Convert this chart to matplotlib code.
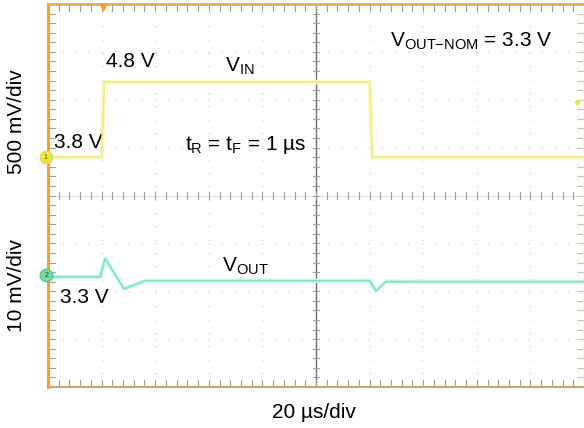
import numpy as np
import matplotlib
matplotlib.use("Agg")
import matplotlib.pyplot as plt

plt.rcParams["font.family"] = ["Liberation Sans", "DejaVu Sans"]
plt.rcParams["mathtext.fontset"] = "custom"
plt.rcParams["mathtext.rm"] = "Liberation Sans"
plt.rcParams["mathtext.it"] = "Liberation Sans"
plt.rcParams["mathtext.bf"] = "Liberation Sans"

# Time base: 20 us/div, 10 divisions
t_vin = [0.0, 20.0, 21.0, 120.0, 121.0, 200.0]          # us
v_in = [3.8, 3.8, 4.8, 4.8, 3.8, 3.8]                   # V

t_vout = [0.0, 19.5, 21.3, 28.4, 36.2, 120.0, 122.4, 126.1, 200.0]  # us
v_out_dev = [0.0, 0.0, 3.8, -2.5, -0.8, -0.8, -2.9, -1.0, -1.0]     # mV from 3.3 V

# Screen placement of each channel (in divisions from bottom)
VIN_REF, VIN_GAIN = 4.80, 1.57        # 3.8 V sits at 4.80 div, div per volt
VOUT_REF, VOUT_GAIN = 2.30, 0.10      # 3.3 V sits at 2.30 div, div per mV

W, H = 584, 428
fig = plt.figure(figsize=(W / 100, H / 100), dpi=100)
left, right, top, bottom = 48, 584, 4, 387
ax = fig.add_axes([left / W, 1 - bottom / H, (right - left) / W, (bottom - top) / H])
ax.set_xlim(0, 200)
ax.set_ylim(0, 8)
ax.set_xticks([])
ax.set_yticks([])
for s in ax.spines.values():
    s.set_visible(False)

grid_c = "#d6d6d6"
tick_c = "#a0a098"
# dotted graticule
for i in range(1, 10):
    if i != 5:
        ax.plot([i * 20, i * 20], [0, 8], color=grid_c, lw=1.0, ls=(0, (1, 8.6)), zorder=1)
for j in range(1, 8):
    if j != 4:
        ax.plot([0, 200], [j, j], color=grid_c, lw=1.0, ls=(0, (1, 8.6)), zorder=1)

# center cross
ax.plot([100, 100], [0, 8], color="#6f6f62", lw=1.0, zorder=2)
ax.plot([0, 200], [4, 4], color="#e0e0da", lw=0.8, zorder=2)

tx = 1.3   # tick half-length in us
ty = 0.07  # tick half-length in div
for k in range(1, 40):
    y = k * 0.2
    ax.plot([100 - tx, 100 + tx], [y, y], color=tick_c, lw=0.8, zorder=2)
    ax.plot([0, 2 * tx], [y, y], color=tick_c, lw=0.8, zorder=2)
    ax.plot([200 - 2 * tx, 200], [y, y], color="#c8c8c0", lw=0.8, zorder=2)
for k in range(1, 50):
    x = k * 4
    ax.plot([x, x], [4 - ty, 4 + ty], color=tick_c, lw=0.8, zorder=2)
    ax.plot([x, x], [0, 2 * ty], color=tick_c, lw=0.8, zorder=2)
    ax.plot([x, x], [8 - 2 * ty, 8], color=tick_c, lw=0.8, zorder=2)

# borders
ax.plot([0, 0], [0, 8], color="#f2a23a", lw=2.2, zorder=5, clip_on=False)
ax.plot([0, 200], [8, 8], color="#dcb44a", lw=2.0, zorder=5, clip_on=False)
ax.plot([0, 200], [0, 0], color="#c9a873", lw=1.6, zorder=5, clip_on=False)
ax.plot([200, 200], [0, 8], color="#f4f0d8", lw=1.0, zorder=5, clip_on=False)

# traces
y_in = [VIN_REF + (v - 3.8) * VIN_GAIN for v in v_in]
ax.plot(t_vin, y_in, color="#fafad0", lw=3.2, zorder=3)
ax.plot(t_vin, y_in, color="#eeee78", lw=1.3, zorder=4)
y_out = [VOUT_REF + d * VOUT_GAIN for d in v_out_dev]
ax.plot(t_vout, y_out, color="#d8f6ef", lw=3.2, zorder=3)
ax.plot(t_vout, y_out, color="#7de4cc", lw=1.3, zorder=4)

# channel markers
ax.scatter([-0.9], [VIN_REF], s=80, color="#e9e93a", edgecolor="#d8d870", zorder=6, clip_on=False)
ax.text(-0.9, VIN_REF, "1", fontsize=5, ha="center", va="center", color="#555500", zorder=7)
ax.scatter([-0.6], [VOUT_REF + 0.03], s=80, color="#78dca8", edgecolor="#58c890", zorder=6, clip_on=False)
ax.text(-0.6, VOUT_REF + 0.03, "2", fontsize=5, ha="center", va="center", color="#114422", zorder=7)
ax.scatter([20.5], [7.93], s=22, marker="v", color="#f0a040", zorder=6, clip_on=False)
ax.scatter([197.5], [5.95], s=8, color="#e6e650", zorder=6, clip_on=False)

fs = 15
ax.text(30.6, 6.80, "4.8 V", fontsize=fs, ha="center", va="center")
ax.text(2.3, 5.10, "3.8 V", fontsize=fs, ha="left", va="center")
ax.text(66.0, 6.58, r"$\mathrm{V_{IN}}$", fontsize=fs, ha="left", va="baseline")
ax.text(51.1, 4.95, r"$\mathrm{t_R}$ = $\mathrm{t_F}$ = 1 µs", fontsize=fs, ha="left", va="baseline")
ax.text(127.6, 7.10, r"$\mathrm{V_{OUT{-}NOM}}$ = 3.3 V", fontsize=fs, ha="left", va="baseline")
ax.text(65.0, 2.40, r"$\mathrm{V_{OUT}}$", fontsize=fs, ha="left", va="baseline")
ax.text(4.5, 1.86, "3.3 V", fontsize=fs, ha="left", va="center")

fig.text(17 / W, 1 - 122 / H, "500 mV/div", rotation=90, fontsize=fs, ha="center", va="center")
fig.text(17 / W, 1 - 286 / H, "10 mV/div", rotation=90, fontsize=fs, ha="center", va="center")
fig.text(314 / W, 1 - 412 / H, "20 µs/div", fontsize=fs, ha="center", va="center")

fig.savefig("out.png", dpi=100)
